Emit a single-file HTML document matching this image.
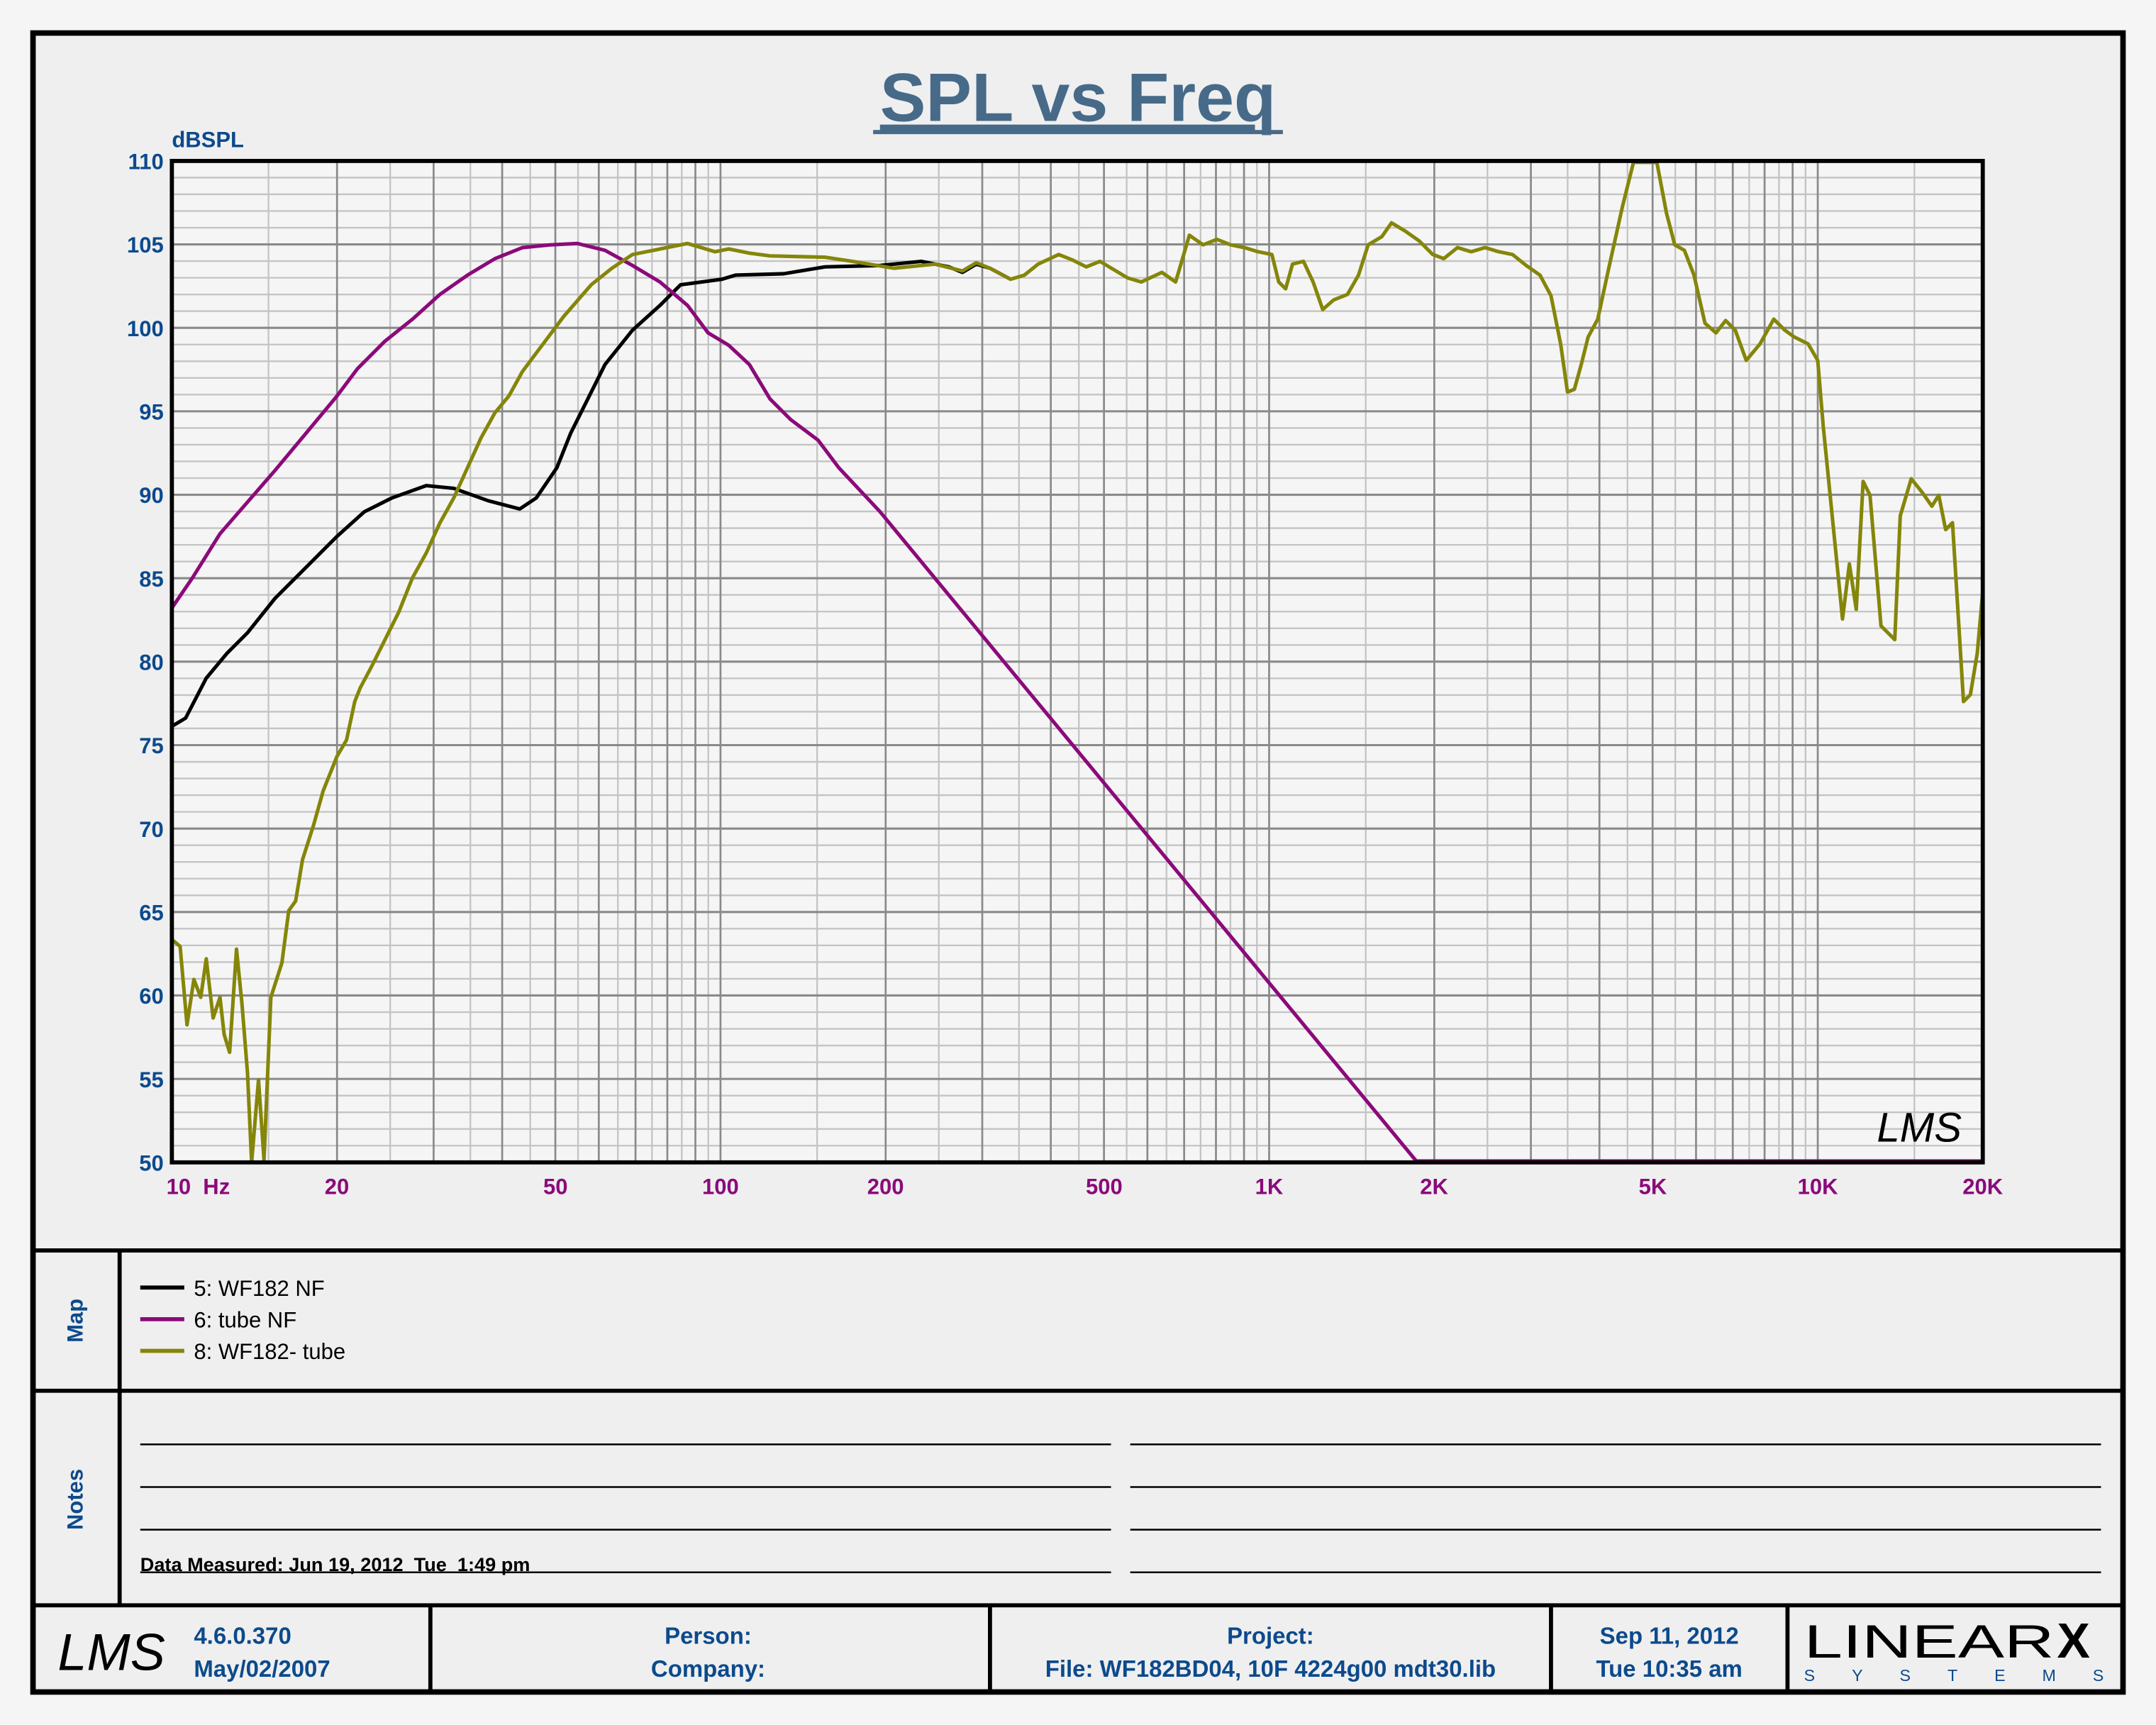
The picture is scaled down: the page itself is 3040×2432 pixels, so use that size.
<!DOCTYPE html>
<html><head><meta charset="utf-8"><style>
html,body{margin:0;padding:0;background:#f5f5f5;}
svg{display:block;}
text{font-family:"Liberation Sans",Arial,sans-serif;}
</style></head><body>
<svg id="s" width="3040" height="2432" viewBox="0 0 1568 1254" preserveAspectRatio="none" xmlns="http://www.w3.org/2000/svg">
<rect x="0" y="0" width="1568" height="1254" fill="#f5f5f5"/>
<rect x="24" y="24" width="1520" height="1206" fill="#efeff0"/>
<rect x="125" y="117" width="1317" height="728" fill="#f5f5f5"/>
<g id="grid"></g>
<g id="curves" fill="none" stroke-width="2.6" stroke-linejoin="round"></g>
<rect x="125" y="117" width="1317" height="728" fill="none" stroke="#000" stroke-width="3"/>
<text x="784" y="88" font-size="50" font-weight="bold" fill="#476a89" text-anchor="middle" text-decoration="underline">SPL vs Freq</text>
<line x1="635" y1="96" x2="933" y2="96" stroke="#476a89" stroke-width="3"/>
<text x="125" y="107" font-size="16" font-weight="bold" fill="#0c4a8c">dBSPL</text>
<g id="ylab" font-size="16" font-weight="bold" fill="#0c4a8c" text-anchor="end"></g>
<g font-size="16" font-weight="bold" fill="#8b0a7a" text-anchor="middle">
<text x="121" y="868" text-anchor="start" xml:space="preserve">10  Hz</text><text x="245" y="868">20</text><text x="404" y="868">50</text><text x="524" y="868">100</text><text x="644" y="868">200</text><text x="803" y="868">500</text><text x="923" y="868">1K</text><text x="1043" y="868">2K</text><text x="1202" y="868">5K</text><text x="1322" y="868">10K</text><text x="1442" y="868">20K</text>
</g>
<text x="1365" y="830" font-size="30" font-style="italic" font-family="Liberation Serif,serif" fill="#000">LMS</text>
<g stroke="#000" stroke-width="3" fill="none">
<rect x="24" y="24" width="1520" height="1206" stroke-width="4"/>
<line x1="24" y1="909" x2="1544" y2="909"/>
<line x1="24" y1="1011" x2="1544" y2="1011"/>
<line x1="24" y1="1167" x2="1544" y2="1167"/>
<line x1="87" y1="909" x2="87" y2="1167"/>
<line x1="313" y1="1167" x2="313" y2="1230"/>
<line x1="720" y1="1167" x2="720" y2="1230"/>
<line x1="1128" y1="1167" x2="1128" y2="1230"/>
<line x1="1300" y1="1167" x2="1300" y2="1230"/>
</g>
<text transform="translate(60,960) rotate(-90)" font-size="16" font-weight="bold" fill="#0c4a8c" text-anchor="middle">Map</text>
<text transform="translate(60,1090) rotate(-90)" font-size="16" font-weight="bold" fill="#0c4a8c" text-anchor="middle">Notes</text>
<g stroke-width="3">
<line x1="102" y1="936" x2="134" y2="936" stroke="#000"/>
<line x1="102" y1="959" x2="134" y2="959" stroke="#8b0a7a"/>
<line x1="102" y1="982" x2="134" y2="982" stroke="#85850a"/>
</g>
<g font-size="16" fill="#000"><text x="141" y="942">5: WF182 NF</text><text x="141" y="965">6: tube NF</text><text x="141" y="988">8: WF182- tube</text></g>
<g stroke="#000" stroke-width="1.3">
<line x1="102" y1="1050" x2="808" y2="1050"/><line x1="822" y1="1050" x2="1528" y2="1050"/>
<line x1="102" y1="1081" x2="808" y2="1081"/><line x1="822" y1="1081" x2="1528" y2="1081"/>
<line x1="102" y1="1112" x2="808" y2="1112"/><line x1="822" y1="1112" x2="1528" y2="1112"/>
<line x1="102" y1="1143" x2="808" y2="1143"/><line x1="822" y1="1143" x2="1528" y2="1143"/>
</g>
<text x="102" y="1142" font-size="14" font-weight="bold" fill="#000" xml:space="preserve">Data Measured: Jun 19, 2012  Tue  1:49 pm</text>
<text x="42" y="1214" font-size="38" font-style="italic" font-family="Liberation Serif,serif" fill="#000">LMS</text>
<g font-size="17" font-weight="bold" fill="#0c4a8c">
<text x="141" y="1195">4.6.0.370</text><text x="141" y="1219">May/02/2007</text>
<text x="515" y="1195" text-anchor="middle">Person:</text><text x="515" y="1219" text-anchor="middle">Company:</text>
<text x="924" y="1195" text-anchor="middle">Project:</text><text x="924" y="1219" text-anchor="middle">File: WF182BD04, 10F 4224g00 mdt30.lib</text>
<text x="1214" y="1195" text-anchor="middle">Sep 11, 2012</text><text x="1214" y="1219" text-anchor="middle">Tue 10:35 am</text>
</g>
<text x="1312" y="1205" font-size="34" font-family="Liberation Serif,serif" fill="#000" textLength="182" lengthAdjust="spacingAndGlyphs">LINEAR</text>
<text x="1496" y="1205" font-size="36" font-weight="bold" fill="#000">X</text>
<text x="1312" y="1222" font-size="12" font-family="Liberation Serif,serif" fill="#0c4a8c" textLength="218" lengthAdjust="spacing">SYSTEMS</text>
</svg>
<script>
var NS="http://www.w3.org/2000/svg";
function el(p,t,a){var e=document.createElementNS(NS,t);for(var k in a)e.setAttribute(k,a[k]);p.appendChild(e);return e;}
var g=document.getElementById("grid");
function X(f){return 125+399*Math.log10(f/10);}
function Y(d){return 117+(110-d)*728/60;}
for(var d=51;d<110;d++){if(d%5)el(g,"line",{x1:125,x2:1442,y1:Y(d),y2:Y(d),stroke:"#c4c4c4","stroke-width":1.2});}
for(var dec=10;dec<=10000;dec*=10){for(var m=1;m<10;m+=0.5){var f=dec*m;if(f>20000)break;var x=X(f);if(x<=125)continue;var maj=(m%1==0);el(g,"line",{x1:x,x2:x,y1:117,y2:845,stroke:maj?"#8a8a8a":"#c4c4c4","stroke-width":maj?1.4:1.2});}}
for(var d=55;d<110;d+=5){el(g,"line",{x1:125,x2:1442,y1:Y(d),y2:Y(d),stroke:"#8a8a8a","stroke-width":1.6});}
var yl=document.getElementById("ylab");
for(var d=50;d<=110;d+=5){var t=el(yl,"text",{x:119,y:Y(d)+6});t.textContent=d;}
var olive=[[125,683],[131,688],[136,745],[141,712],[146,725],[150,697],[155,740],[160,725],[163,752],[167,765],[172,690],[176,730],[180,780],[183,845],[188,785],[192,843],[197,725],[205,700],[210,662],[215,655],[220,625],[228,600],[235,575],[245,550],[252,538],[258,510],[262,500],[270,485],[280,465],[290,445],[300,420],[310,402],[320,380],[330,362],[340,340],[350,318],[360,300],[370,288],[380,270],[395,250],[410,230],[430,207],[445,195],[460,185],[475,182],[490,179],[500,177],[510,180],[520,183],[530,181],[545,184],[560,186],[600,187],[620,190],[650,195],[680,192],[700,197],[710,191],[720,195],[735,203],[745,200],[755,192],[770,185],[780,189],[790,194],[800,190],[810,196],[820,202],[830,205],[845,198],[855,205],[865,171],[875,178],[885,174],[895,178],[905,180],[915,183],[925,185],[930,205],[935,210],[940,192],[948,190],[955,205],[962,225],[970,218],[980,214],[988,200],[995,178],[1005,172],[1012,162],[1022,168],[1032,175],[1042,185],[1050,188],[1060,180],[1070,183],[1080,180],[1090,183],[1100,185],[1110,193],[1120,200],[1128,215],[1135,250],[1140,285],[1145,283],[1150,265],[1155,245],[1162,232],[1170,195],[1180,150],[1188,118],[1205,118],[1212,155],[1218,178],[1225,182],[1232,200],[1240,235],[1248,242],[1255,233],[1262,240],[1270,262],[1280,250],[1290,232],[1298,240],[1305,245],[1315,250],[1322,262],[1326,310],[1332,370],[1340,450],[1345,410],[1350,443],[1355,350],[1360,360],[1368,455],[1378,465],[1382,375],[1390,348],[1398,358],[1405,368],[1410,360],[1415,385],[1420,380],[1428,510],[1433,505],[1438,475],[1442,430]];
var black=[[125,528],[135,522],[150,493],[165,475],[180,460],[200,435],[220,415],[245,390],[265,372],[285,362],[310,353],[330,355],[355,364],[378,370],[390,362],[405,340],[415,315],[430,285],[440,265],[460,240],[480,222],[495,207],[510,205],[525,203],[535,200],[570,199],[600,194],[640,193],[670,190],[690,194],[700,198],[710,192],[720,195],[735,203]];
var mag=[[125,442],[140,420],[160,388],[180,365],[200,342],[220,318],[245,288],[260,268],[280,248],[300,232],[320,214],[340,200],[360,188],[380,180],[400,178],[420,177],[440,182],[460,193],[480,205],[500,222],[515,242],[530,251],[545,265],[560,290],[575,305],[595,320],[610,340],[640,372],[1030,844],[1442,844]];
var c=document.getElementById("curves");
function pl(p,col){el(c,"polyline",{points:p.map(function(q){return q.join(",")}).join(" "),stroke:col});}
pl(black,"#000");pl(mag,"#8b0a7a");pl(olive,"#85850a");
</script>
</body></html>
